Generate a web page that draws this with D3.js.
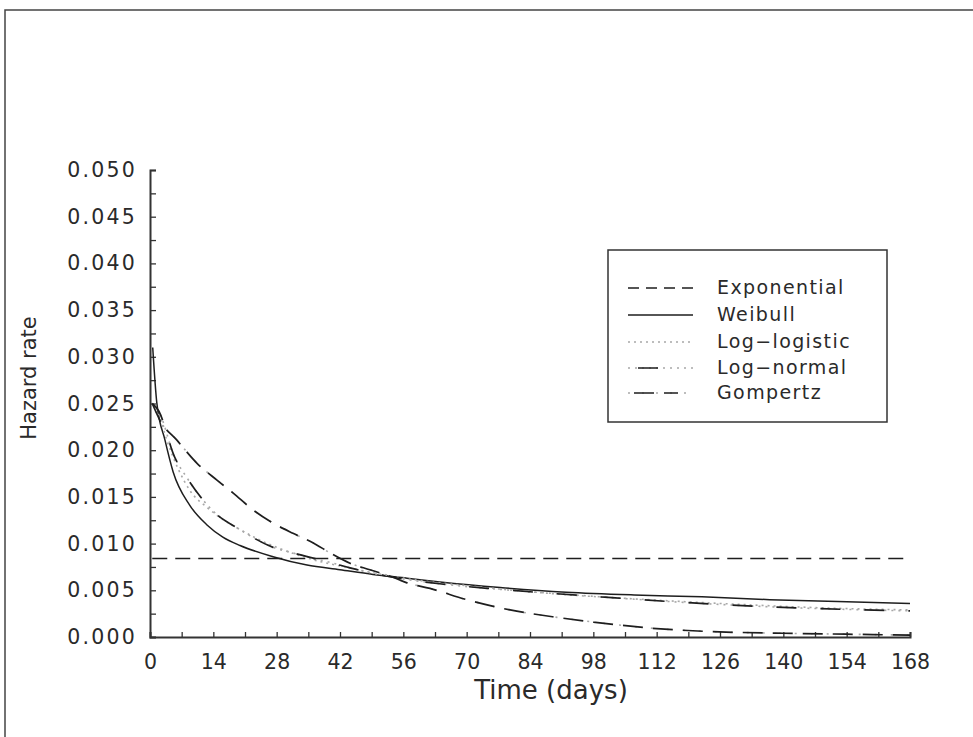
<!DOCTYPE html>
<html>
<head>
<meta charset="utf-8">
<script src="https://cdn.jsdelivr.net/npm/d3@7"></script>
<style>
  body { margin: 0; background: #fff; }
  text { font-family: "DejaVu Sans", sans-serif; fill: #2a2a2a; }
  .tick-y text { font-size: 20.5px; letter-spacing: 2.2px; }
  .tick-x text { font-size: 20.5px; }
  .axis-title { font-size: 26px; }
  .legend-caption { font-size: 19px; letter-spacing: 1.4px; }
</style>
</head>
<body>
<svg id="chart" width="973" height="737"></svg>
<script>
// x tick labels (days), y tick labels
const xTicks = [0, 14, 28, 42, 56, 70, 84, 98, 112, 126, 140, 154, 168];
const yTicks = [0, 0.005, 0.010, 0.015, 0.020, 0.025, 0.030, 0.035, 0.040, 0.045, 0.050];

// series: time (days) and hazard rate
const expT = [0.5, 168];
const expV = [0.0084, 0.0084];

const weibullT = [0.6, 1.5, 3.3, 5.1, 8.8, 12.6, 16.1, 19.9, 27.2, 34.7, 42, 49.3, 56.8, 64.1, 77.4, 92, 107, 122, 137, 152, 168];
const weibullV = [0.0310, 0.0251, 0.0211, 0.0177, 0.0141, 0.0120, 0.0107, 0.0098, 0.0086, 0.0077, 0.0072, 0.0067, 0.0063, 0.0059, 0.0053, 0.0048, 0.0045, 0.0043, 0.0040, 0.0038, 0.0036];

const loglogT = [0.5, 1.8, 3.7, 8.8, 12.8, 21.4, 33.8, 45, 56, 70, 90, 110, 130, 150, 168];
const loglogV = [0.0250, 0.0240, 0.0211, 0.0157, 0.0138, 0.0111, 0.0086, 0.0073, 0.0063, 0.0055, 0.0046, 0.0040, 0.0035, 0.0031, 0.0029];

const lognormT = [0.5, 1.8, 5.5, 8.1, 14.8, 19.2, 27.2, 31.6, 40.5, 44.2, 53.7, 64, 77.4, 99.7, 118, 144, 168];
const lognormV = [0.0250, 0.0243, 0.0192, 0.0171, 0.0131, 0.0117, 0.0096, 0.0090, 0.0079, 0.0074, 0.0064, 0.0057, 0.0051, 0.0043, 0.0037, 0.0031, 0.0028];

const gompertzT = [0.5, 2.2, 5.9, 10.4, 14.8, 18.4, 22.8, 27.2, 31.6, 36, 39.8, 44.2, 48.6, 53.7, 56.8, 61.9, 70, 79.6, 90, 98, 112, 123, 140, 154, 168];
const gompertzV = [0.0250, 0.0232, 0.0211, 0.0186, 0.0168, 0.0154, 0.0136, 0.0122, 0.0111, 0.0101, 0.0090, 0.0079, 0.0072, 0.0064, 0.0058, 0.0052, 0.0040, 0.0029, 0.0021, 0.0016, 0.0009, 0.0006, 0.0004, 0.0003, 0.0002];

const legendLabels = ["Exponential", "Weibull", "Log\u2212logistic", "Log\u2212normal", "Gompertz"];

const svg = d3.select("#chart");
const margin = {left: 150, right: 63, top: 170, bottom: 100};
const W = 973, H = 737;

const x = d3.scaleLinear().domain([0, 168]).range([margin.left, W - margin.right]);
const y = d3.scaleLinear().domain([0, 0.05]).range([H - margin.bottom, margin.top]);

// outer frame
svg.append("rect")
  .attr("x", 5).attr("y", 10)
  .attr("width", 980).attr("height", 740)
  .attr("fill", "none").attr("stroke", "#444").attr("stroke-width", 1.5);

// axes, ticks every 7 days / 0.0025, labels on every other
const xAll = d3.range(0, 169, 7);
const yAll = d3.range(0, 21).map(i => i * 0.0025);

const gx = svg.append("g")
  .attr("class", "tick-x")
  .attr("transform", `translate(0,${y(0)})`)
  .call(d3.axisBottom(x).tickValues(xAll).tickSize(-5).tickPadding(17)
    .tickFormat(d => xTicks.includes(d) ? d : ""));

const gy = svg.append("g")
  .attr("class", "tick-y")
  .attr("transform", `translate(${x(0)},0)`)
  .call(d3.axisLeft(y).tickValues(yAll).tickSize(-6).tickPadding(13)
    .tickFormat(d => yTicks.some(t => Math.abs(t - d) < 1e-9) ? d3.format(".3f")(d) : ""));

[gx, gy].forEach(g => {
  g.attr("font-family", null).attr("font-size", null);
  g.select(".domain").attr("stroke", "#333").attr("stroke-width", 2);
  g.selectAll(".tick line").attr("stroke", "#333").attr("stroke-width", 1.3);
  g.selectAll(".tick text").attr("fill", "#2a2a2a");
});

// axis titles
svg.append("text")
  .attr("class", "axis-title")
  .attr("x", 551).attr("y", 699)
  .attr("text-anchor", "middle")
  .text("Time (days)");

svg.append("text")
  .attr("class", "axis-title")
  .attr("transform", "translate(36,378) rotate(-90)")
  .attr("text-anchor", "middle")
  .style("font-size", "21px")
  .text("Hazard rate");

// lines
const line = d3.line()
  .x(d => x(d[0]))
  .y(d => y(d[1]))
  .curve(d3.curveMonotoneX);

const pairs = (t, v) => t.map((d, i) => [d, v[i]]);

const plot = svg.append("g");
const grey = "#a8a8a8", ink = "#1e1e1e";

// each style is a list of stroke layers
const styles = [
  [{stroke: ink, dash: "15,8", w: 1.5}],
  [{stroke: ink, dash: null, w: 1.5}],
  [{stroke: grey, dash: "2,4", w: 1.6}],
  [{stroke: grey, dash: "2,5", w: 1.6}, {stroke: ink, dash: "20,24", w: 1.7}],
  [{stroke: grey, dash: "2,14", w: 1.6, offset: -24}, {stroke: ink, dash: "20,10", w: 1.7}]
];

const seriesData = [
  pairs(expT, expV),
  pairs(weibullT, weibullV),
  pairs(loglogT, loglogV),
  pairs(lognormT, lognormV),
  pairs(gompertzT, gompertzV)
];

seriesData.forEach((d, i) => {
  styles[i].forEach(s => {
    plot.append("path")
      .datum(d)
      .attr("fill", "none")
      .attr("stroke", s.stroke)
      .attr("stroke-width", s.w)
      .attr("stroke-dasharray", s.dash)
      .attr("stroke-dashoffset", s.offset || 0)
      .attr("d", line);
  });
});

// legend
const legend = svg.append("g");
legend.append("rect")
  .attr("x", 608).attr("y", 250)
  .attr("width", 279).attr("height", 172)
  .attr("fill", "#fff").attr("stroke", "#333").attr("stroke-width", 1.5);

const rowY = [288, 315, 342, 368, 393];
const legendStyles = [
  [{stroke: ink, dash: "11,7", w: 1.5}],
  [{stroke: ink, dash: null, w: 1.5}],
  [{stroke: grey, dash: "2,4", w: 1.6}],
  [{stroke: grey, dash: "2,5", w: 1.6}, {stroke: ink, dash: "0,10,20,40", w: 1.7}],
  [{stroke: grey, dash: "2,12", w: 1.6}, {stroke: ink, dash: "0,6,20,10,14,20", w: 1.7}]
];

legendLabels.forEach((lab, i) => {
  legendStyles[i].forEach(s => {
    legend.append("line")
      .attr("x1", 628).attr("x2", 693)
      .attr("y1", rowY[i]).attr("y2", rowY[i])
      .attr("stroke", s.stroke)
      .attr("stroke-width", s.w)
      .attr("stroke-dasharray", s.dash);
  });
  legend.append("text")
    .attr("class", "legend-caption")
    .attr("x", 717).attr("y", rowY[i])
    .attr("dominant-baseline", "middle")
    .text(lab);
});
</script>
</body>
</html>
